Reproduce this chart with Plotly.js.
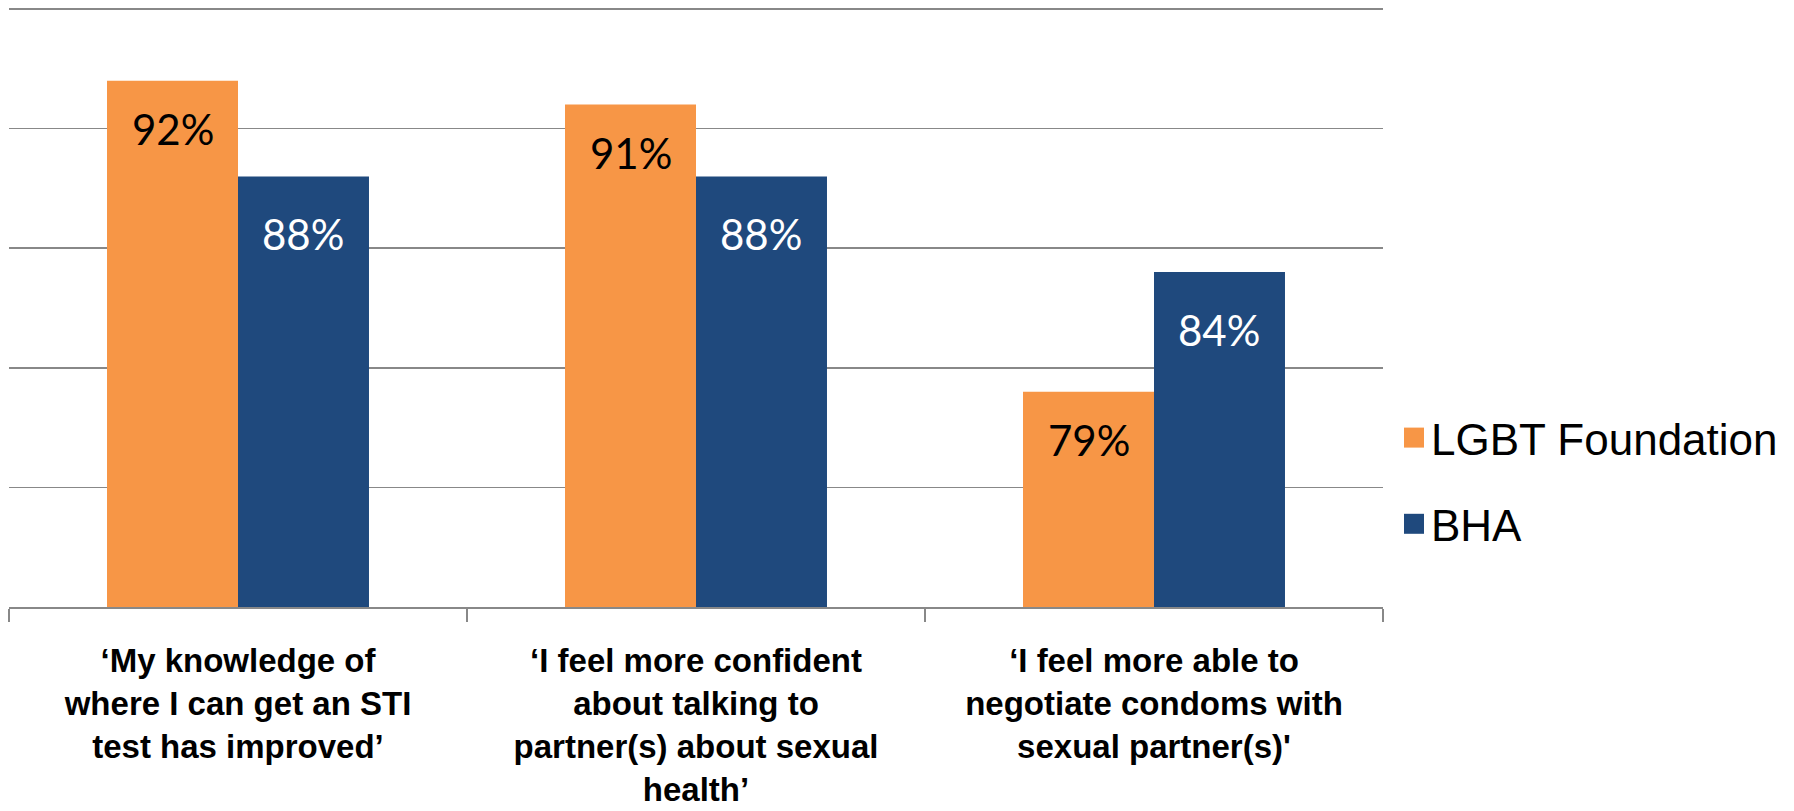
<!DOCTYPE html>
<html><head><meta charset="utf-8">
<script src="https://cdn.plot.ly/plotly-3.0.1.min.js"></script>
<style>html,body{margin:0;padding:0;background:#fff;}#chart{width:1794px;height:811px;}</style>
</head><body><div id="chart"></div>
<script>
const categories = [
  "‘My knowledge of<br>where I can get an STI<br>test has improved’",
  "‘I feel more confident<br>about talking to<br>partner(s) about sexual<br>health’",
  "‘I feel more able to<br>negotiate condoms with<br>sexual partner(s)'"
];
const seriesNames = ["LGBT Foundation", "BHA"];
const lgbtValues = [92, 91, 79];
const bhaValues = [88, 88, 84];
const yTicks = [70, 75, 80, 85, 90, 95];

const colors = ["#F79646", "#1F497D"];
const labelColors = ["#000000", "#ffffff"];
const labelShift = [-48, -58];
const bargap = 0.428;
const series = [lgbtValues, bhaValues];

const traces = series.map((vals, s) => ({
  type: "bar",
  name: seriesNames[s],
  x: categories,
  y: vals,
  marker: {color: colors[s]},
  legendgroup: "g" + s,
  hoverinfo: "skip"
}));

const annotations = [];
const half = (1 - bargap) / 4;
series.forEach((vals, s) => {
  vals.forEach((v, i) => {
    annotations.push({
      x: i + (s === 0 ? -half : half),
      y: v,
      xref: "x", yref: "y",
      text: v + "%",
      showarrow: false,
      yanchor: "middle",
      yshift: labelShift[s],
      font: {family: "Lato, 'Open Sans', sans-serif", size: 42, color: labelColors[s]}
    });
  });
});

const W = 1794, H = 811;
const m = {l: 9, r: 411, t: 7, b: 204};
const pw = W - m.l - m.r, ph = H - m.t - m.b;

const layout = {
  width: W, height: H,
  margin: m,
  paper_bgcolor: "#ffffff",
  plot_bgcolor: "#ffffff",
  barmode: "group",
  bargap: bargap,
  bargroupgap: 0,
  showlegend: true,
  legend: {
    x: (1391 - m.l) / pw,
    xanchor: "left",
    y: (H - m.b - 481) / ph,
    yanchor: "middle",
    traceorder: "grouped",
    tracegroupgap: 26,
    font: {family: "'Liberation Sans', Arial, sans-serif", size: 44, color: "#000"},
    bgcolor: "rgba(0,0,0,0)"
  },
  xaxis: {
    type: "category",
    showline: true,
    linecolor: "#888888",
    linewidth: 1.5,
    ticks: "outside",
    tickson: "boundaries",
    ticklen: 13,
    tickcolor: "#888888",
    tickwidth: 1.5,
    showgrid: false,
    tickfont: {family: "'Liberation Sans', Arial, sans-serif", size: 33, color: "#000", weight: "bold"},
    ticklabelstandoff: 24
  },
  yaxis: {
    range: [yTicks[0], 95.08],
    tickvals: yTicks,
    showticklabels: false,
    showgrid: true,
    gridcolor: "#888888",
    gridwidth: 1.5,
    zeroline: false,
    showline: false,
    ticks: ""
  },
  annotations: annotations
};

Plotly.newPlot("chart", traces, layout, {displayModeBar: false, staticPlot: true}).then(gd => {
  gd.querySelectorAll(".legend [clip-path]").forEach(el => el.removeAttribute("clip-path"));
  gd.querySelectorAll(".legend .legendpoints path").forEach(p => {
    p.removeAttribute("transform");
    p.setAttribute("d", "M33,10H13V-10H33Z");
    p.style.strokeWidth = "0";
  });
});
</script>
</body></html>
